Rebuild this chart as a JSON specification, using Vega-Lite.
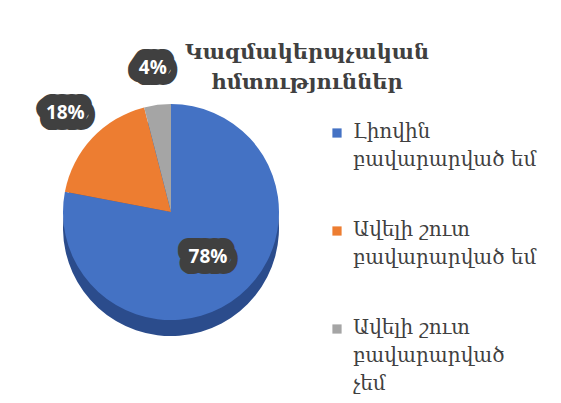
{
  "$schema": "https://vega.github.io/schema/vega-lite/v6.json",
  "width": 306,
  "height": 224,
  "autosize": {"type": "none"},
  "padding": {"left": 18, "top": 100, "right": 237, "bottom": 79},
  "background": "white",
  "config": {"view": {"stroke": null}},
  "title": {
    "text": ["Կազմակերպչական", "հմտություններ"],
    "font": "DejaVu Serif",
    "fontSize": 21,
    "fontWeight": "bold",
    "color": "#404040",
    "anchor": "middle",
    "dx": 136,
    "offset": -34,
    "lineHeight": 30
  },
  "data": {
    "values": [
      {"category": "Լիովին բավարարված եմ", "value": 78, "label": "78%"},
      {"category": "Ավելի շուտ բավարարված եմ", "value": 18, "label": "18%"},
      {"category": "Ավելի շուտ բավարարված չեմ", "value": 4, "label": "4%"}
    ]
  },
  "encoding": {
    "theta": {"field": "value", "type": "quantitative", "stack": true},
    "order": {"field": "value", "sort": "descending"}
  },
  "layer": [
    {"mark": {"type": "arc", "outerRadius": 108, "yOffset": 16, "color": "#2B4C8C"}},
    {
      "mark": {"type": "arc", "outerRadius": 108},
      "encoding": {
        "color": {
          "field": "category",
          "type": "nominal",
          "scale": {
            "domain": ["Լիովին բավարարված եմ", "Ավելի շուտ բավարարված եմ", "Ավելի շուտ բավարարված չեմ"],
            "range": ["#4472C4", "#ED7D31", "#A5A5A5"]
          },
          "legend": {
            "orient": "none",
            "legendX": 309,
            "legendY": 23,
            "title": null,
            "symbolType": "square",
            "symbolSize": 85,
            "symbolStrokeWidth": 0,
            "labelFont": "DejaVu Serif",
            "labelFontSize": 20,
            "labelColor": "#404040",
            "labelLimit": 0,
            "labelBaseline": "top",
            "labelOffset": 6,
            "rowPadding": 50,
            "labelExpr": "datum.label == 'Լիովին բավարարված եմ' ? ['Լիովին', 'բավարարված եմ'] : datum.label == 'Ավելի շուտ բավարարված եմ' ? ['Ավելի շուտ', 'բավարարված եմ'] : ['Ավելի շուտ', 'բավարարված', 'չեմ']",
            "encode": {"labels": {"update": {"lineHeight": {"value": 28}, "dy": {"value": -11}}}}
          }
        }
      }
    },
    {
      "mark": {"type": "text", "radius": 58, "font": "Open Sans", "fontSize": 19, "fontWeight": "bold", "fill": "#404040", "stroke": "#404040", "strokeWidth": 22, "strokeJoin": "round"},
      "encoding": {"text": {"condition": {"test": "datum.value > 50", "field": "label"}, "value": ""}}
    },
    {
      "mark": {"type": "text", "radius": 58, "font": "Open Sans", "fontSize": 19, "fontWeight": "bold", "fill": "white"},
      "encoding": {"text": {"condition": {"test": "datum.value > 50", "field": "label"}, "value": ""}}
    },
    {
      "mark": {"type": "text", "radius": 145, "font": "Open Sans", "fontSize": 19, "fontWeight": "bold", "fill": "#404040", "stroke": "#404040", "strokeWidth": 22, "strokeJoin": "round"},
      "encoding": {"text": {"condition": {"test": "datum.value < 50", "field": "label"}, "value": ""}}
    },
    {
      "mark": {"type": "text", "radius": 145, "font": "Open Sans", "fontSize": 19, "fontWeight": "bold", "fill": "white"},
      "encoding": {"text": {"condition": {"test": "datum.value < 50", "field": "label"}, "value": ""}}
    }
  ]
}
